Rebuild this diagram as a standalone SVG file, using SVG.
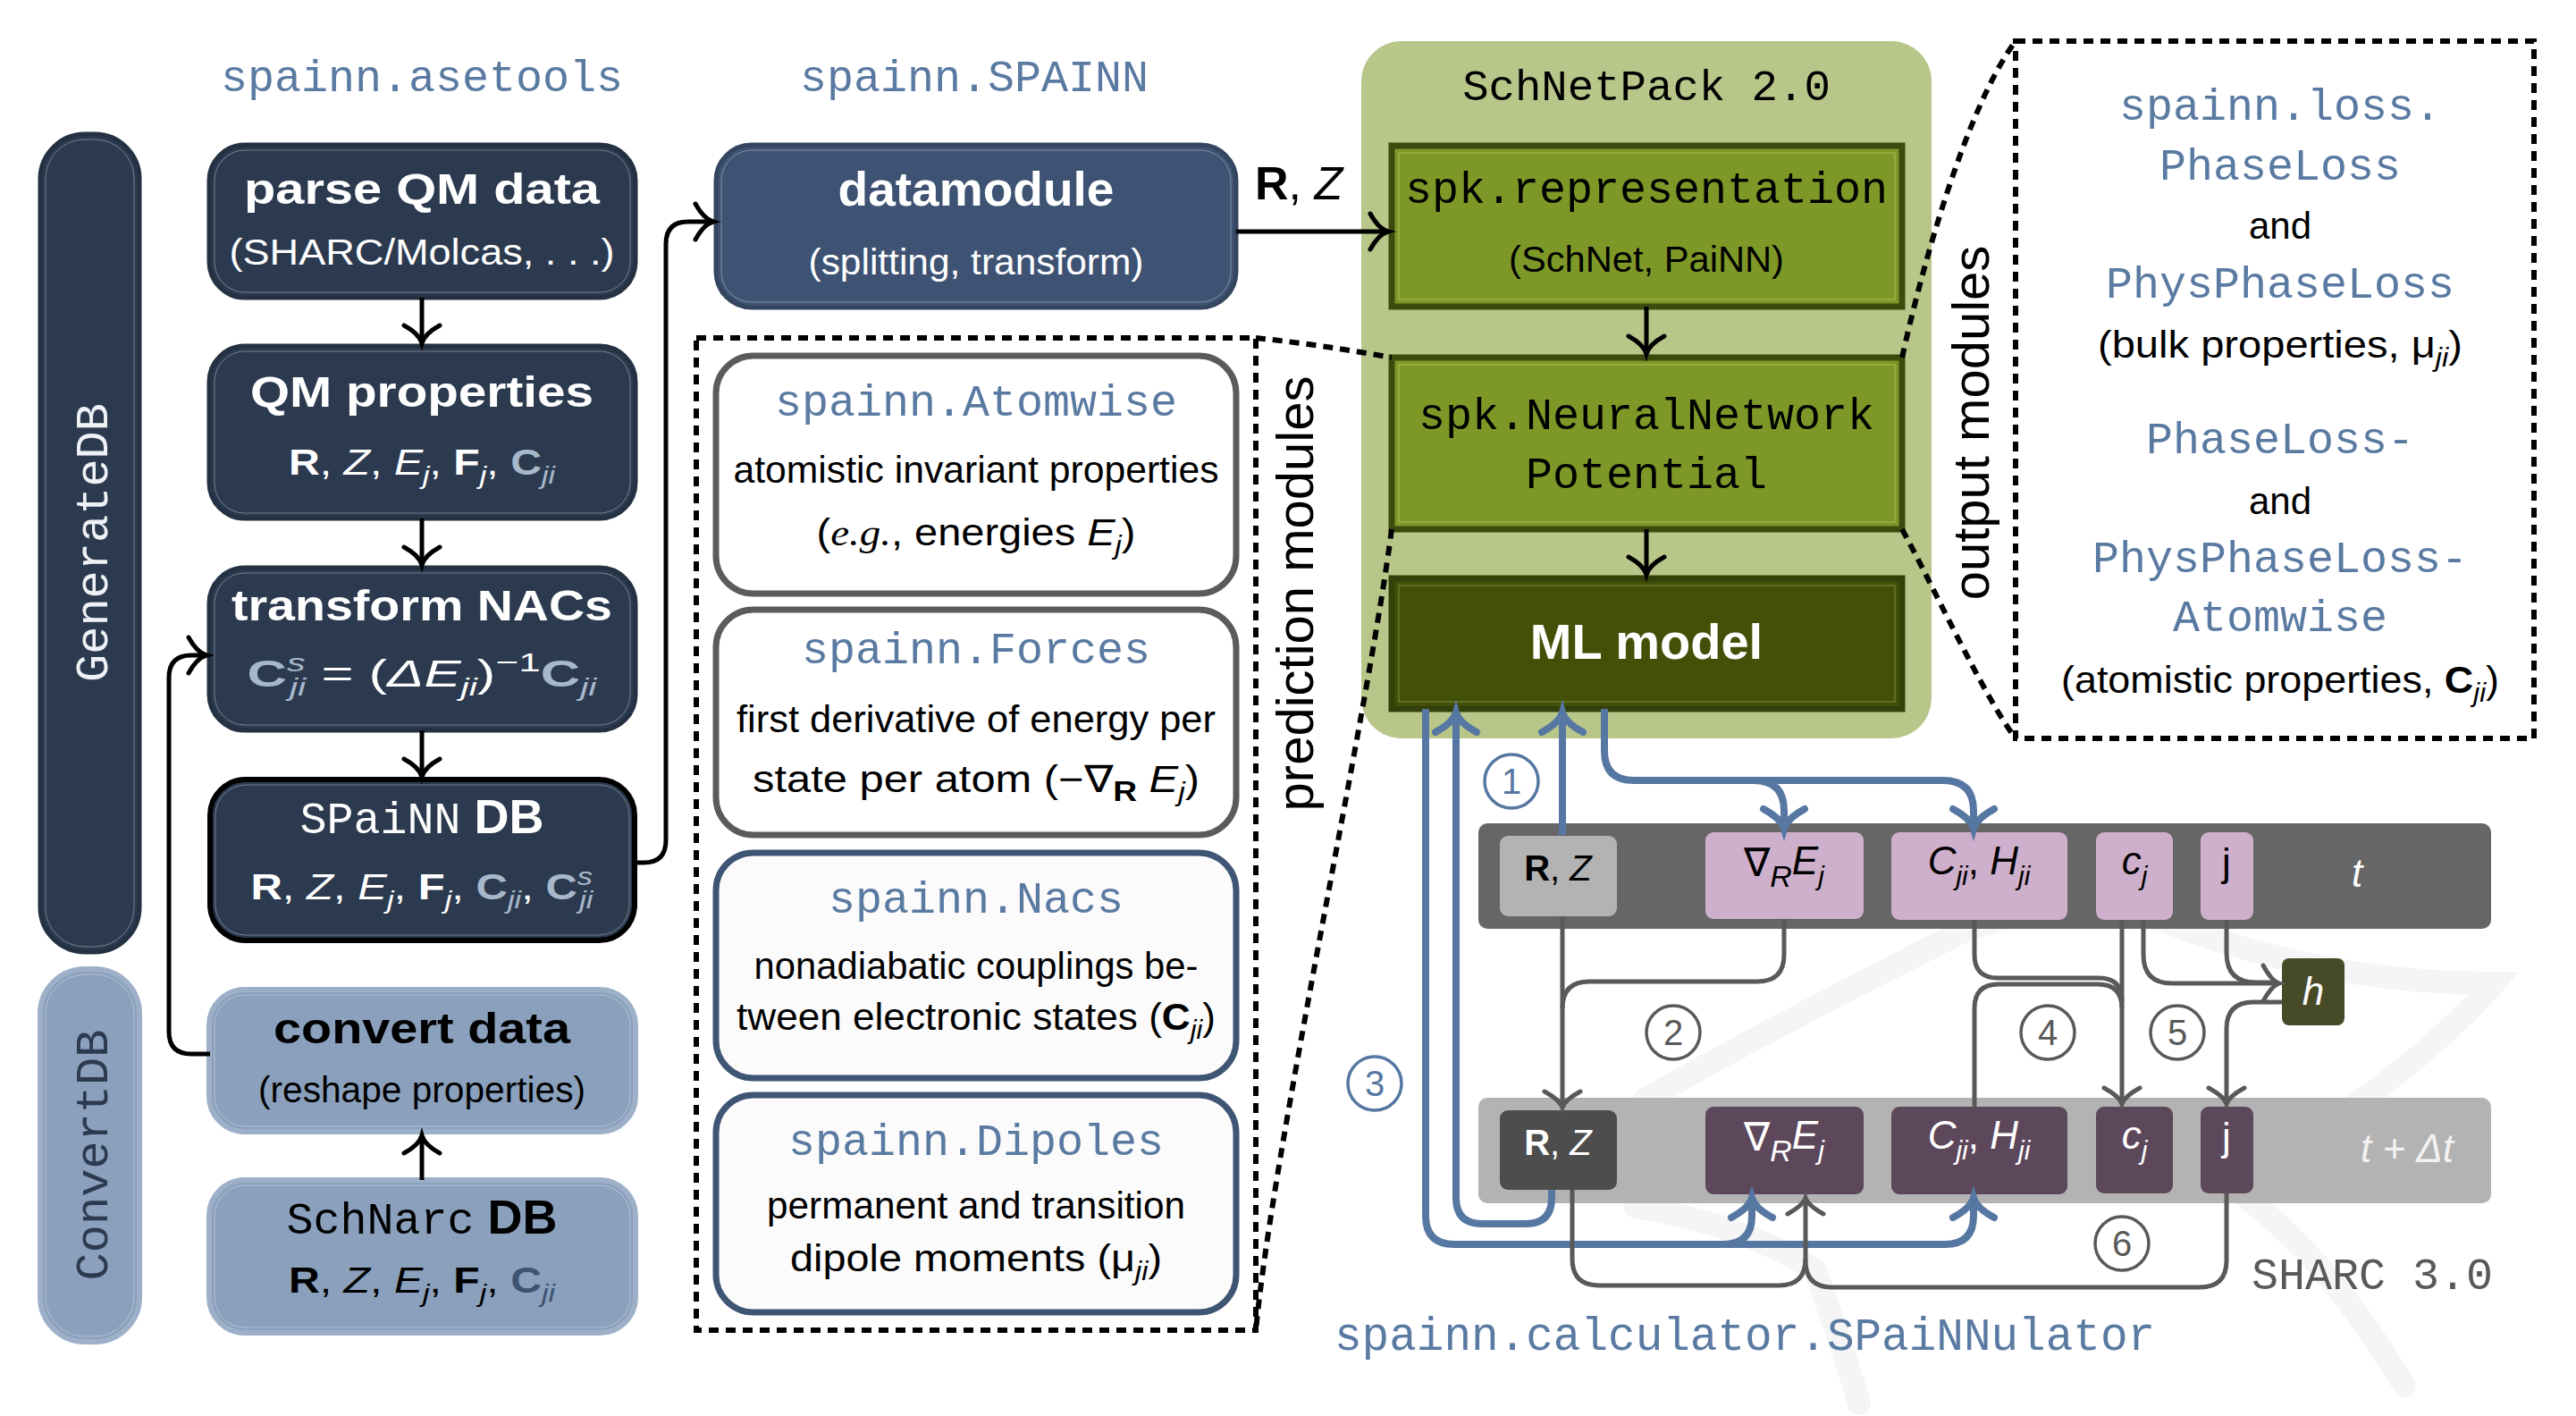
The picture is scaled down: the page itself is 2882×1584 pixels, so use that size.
<svg xmlns="http://www.w3.org/2000/svg" width="2882" height="1584" viewBox="0 0 2882 1584">
<style>
.sans{font-family:"Liberation Sans",Arial,sans-serif}
.mono{font-family:"Liberation Mono","Courier New",monospace}
.serif{font-family:"Liberation Serif","Times New Roman",serif}
.b{font-weight:bold}
.i{font-style:italic}
.blue{fill:#5a7aa2}
.wire{fill:none;stroke:#000;stroke-width:5}
.bwire{fill:none;stroke:#5677a1;stroke-width:8}
.gwire{fill:none;stroke:#595959;stroke-width:5}
.dot{fill:none;stroke:#000;stroke-width:6;stroke-dasharray:11 8}
.navy{fill:#2c3a4f;stroke:#243142;stroke-width:5}
.lblue{fill:#8aa0bc;stroke:#9db0c8;stroke-width:6}
.inner{fill:none;stroke:#ffffff;stroke-opacity:0.35;stroke-width:1}
.gbox{fill:#7e9828;stroke:#3d4b0f;stroke-width:7}
.pm{fill:#ffffff;stroke:#5b5b5b;stroke-width:7}
.pmb{fill:#fbfbfb;stroke:#3f5574;stroke-width:7}
.circ{fill:#ffffff;stroke-width:3.5}
</style>
<defs>
<marker id="ak" markerUnits="userSpaceOnUse" viewBox="-30 -30 40 60" markerWidth="40" markerHeight="60" refX="0" refY="0" orient="auto" overflow="visible">
<path d="M-20,-20 C-14,-9 -7,-2 0,0 C-7,2 -14,9 -20,20" fill="none" stroke="#000" stroke-width="5" stroke-linecap="round"/>
</marker>
<marker id="ab" markerUnits="userSpaceOnUse" viewBox="-30 -30 40 60" markerWidth="40" markerHeight="60" refX="0" refY="0" orient="auto" overflow="visible">
<path d="M-22,-23 C-15,-10 -7,-2 0,0 C-7,2 -15,10 -22,23" fill="none" stroke="#5677a1" stroke-width="8" stroke-linecap="round"/>
</marker>
<marker id="ag" markerUnits="userSpaceOnUse" viewBox="-30 -30 40 60" markerWidth="40" markerHeight="60" refX="0" refY="0" orient="auto" overflow="visible">
<path d="M-18,-20 C-12,-9 -6,-2 0,0 C-6,2 -12,9 -18,20" fill="none" stroke="#595959" stroke-width="5" stroke-linecap="round"/>
</marker>
</defs>

<rect width="2882" height="1584" fill="#ffffff"/>

<!-- faint SHARC watermark -->
<g id="watermark" fill="none" stroke="#f5f5f5" stroke-width="26" stroke-linecap="round">
<path d="M1840,1230 Q2000,1140 2190,1045 Q2300,1000 2420,1030"/>
<path d="M2420,1030 Q2600,1100 2790,1100 Q2720,1180 2600,1260"/>
<path d="M1830,1350 Q1950,1370 2030,1420 Q2060,1500 2080,1570"/>
<path d="M2500,1330 Q2600,1400 2690,1550"/>
</g>

<!-- titles -->
<text id="t-asetools" class="mono blue" x="472" y="102" font-size="50" text-anchor="middle">spainn.asetools</text>
<text id="t-spainn" class="mono blue" x="1090" y="102" font-size="50" text-anchor="middle">spainn.SPAINN</text>

<!-- side bars -->
<g id="generatedb">
<rect x="45" y="150" width="111" height="915" rx="50" class="navy"/>
<rect x="51" y="156" width="99" height="903" rx="44" class="inner"/>
<text class="mono" font-size="52" fill="#eef1f5" text-anchor="middle" transform="translate(120,607) rotate(-90)">GenerateDB</text>
</g>
<g id="convertdb">
<rect x="45" y="1084" width="111" height="417" rx="50" class="lblue"/>
<rect x="51" y="1090" width="99" height="405" rx="44" class="inner"/>
<text class="mono" font-size="52" fill="#2c3a4f" text-anchor="middle" transform="translate(120,1292) rotate(-90)">ConvertDB</text>
</g>

<!-- left column -->
<g id="parse">
<rect x="234" y="162" width="477" height="171" rx="40" class="navy"/>
<rect x="240" y="168" width="465" height="159" rx="34" class="inner"/>
<text class="sans b" x="472" y="228" font-size="48" fill="#fff" text-anchor="middle" textLength="398" lengthAdjust="spacingAndGlyphs">parse QM data</text>
<text class="sans" x="472" y="296" font-size="40" fill="#fff" text-anchor="middle" textLength="431" lengthAdjust="spacingAndGlyphs">(SHARC/Molcas, . . .)</text>
</g>
<g id="qmprops">
<rect x="234" y="387" width="477" height="193" rx="40" class="navy"/>
<rect x="240" y="393" width="465" height="181" rx="34" class="inner"/>
<text class="sans b" x="472" y="455" font-size="48" fill="#fff" text-anchor="middle" textLength="384" lengthAdjust="spacingAndGlyphs">QM properties</text>
<text class="sans" x="472" y="531" font-size="40" fill="#fff" text-anchor="middle" textLength="298" lengthAdjust="spacingAndGlyphs"><tspan class="b">R</tspan>, <tspan class="i">Z</tspan>, <tspan class="i">E</tspan><tspan class="i" font-size="28" dy="10">j</tspan><tspan dy="-10">, </tspan><tspan class="b">F</tspan><tspan class="i" font-size="28" dy="10">j</tspan><tspan dy="-10">, </tspan><tspan class="b" fill="#a8b8cb">C</tspan><tspan class="i" font-size="28" dy="10" fill="#a8b8cb">ji</tspan></text>
</g>
<g id="transform">
<rect x="234" y="635" width="477" height="182" rx="40" class="navy"/>
<rect x="240" y="641" width="465" height="170" rx="34" class="inner"/>
<text class="sans b" x="472" y="694" font-size="48" fill="#fff" text-anchor="middle" textLength="426" lengthAdjust="spacingAndGlyphs">transform NACs</text>
<text class="sans" x="472" y="768" font-size="42" fill="#fff" text-anchor="middle" textLength="391" lengthAdjust="spacingAndGlyphs"><tspan class="b" fill="#a8b8cb">C</tspan><tspan class="i" font-size="28" dy="-17" fill="#a8b8cb">s</tspan><tspan class="i" font-size="28" dx="-12" dy="27" fill="#a8b8cb">ji</tspan><tspan dy="-10"> = (</tspan><tspan class="i">ΔE</tspan><tspan class="i" font-size="28" dy="10">ji</tspan><tspan dy="-10">)</tspan><tspan font-size="30" dy="-17">−1</tspan><tspan class="b" fill="#a8b8cb" dy="17">C</tspan><tspan class="i" font-size="28" dy="10" fill="#a8b8cb">ji</tspan></text>
</g>
<g id="spainndb">
<rect x="235" y="872" width="475" height="180" rx="40" fill="#2c3a4f" stroke="#000" stroke-width="6"/>
<rect x="241" y="878" width="463" height="168" rx="34" class="inner"/>
<text x="472" y="932" fill="#fff" text-anchor="middle"><tspan class="mono" font-size="50">SPaiNN</tspan><tspan class="sans b" font-size="54"> DB</tspan></text>
<text class="sans" x="472" y="1006" font-size="40" fill="#fff" text-anchor="middle" textLength="383" lengthAdjust="spacingAndGlyphs"><tspan class="b">R</tspan>, <tspan class="i">Z</tspan>, <tspan class="i">E</tspan><tspan class="i" font-size="28" dy="10">j</tspan><tspan dy="-10">, </tspan><tspan class="b">F</tspan><tspan class="i" font-size="28" dy="10">j</tspan><tspan dy="-10">, </tspan><tspan class="b" fill="#a8b8cb">C</tspan><tspan class="i" font-size="28" dy="10" fill="#a8b8cb">ji</tspan><tspan dy="-10">, </tspan><tspan class="b" fill="#a8b8cb">C</tspan><tspan class="i" font-size="28" dy="-16" fill="#a8b8cb">s</tspan><tspan class="i" font-size="28" dx="-12" dy="26" fill="#a8b8cb">ji</tspan></text>
</g>
<g id="convert">
<rect x="234" y="1107" width="477" height="159" rx="40" class="lblue"/>
<rect x="240" y="1113" width="465" height="147" rx="34" class="inner"/>
<text class="sans b" x="472" y="1167" font-size="48" fill="#000" text-anchor="middle" textLength="332" lengthAdjust="spacingAndGlyphs">convert data</text>
<text class="sans" x="472" y="1233" font-size="40" fill="#000" text-anchor="middle" textLength="366" lengthAdjust="spacingAndGlyphs">(reshape properties)</text>
</g>
<g id="schnarcdb">
<rect x="234" y="1320" width="477" height="171" rx="40" class="lblue"/>
<rect x="240" y="1326" width="465" height="159" rx="34" class="inner"/>
<text x="472" y="1380" fill="#000" text-anchor="middle"><tspan class="mono" font-size="50">SchNarc</tspan><tspan class="sans b" font-size="54"> DB</tspan></text>
<text class="sans" x="472" y="1446" font-size="40" fill="#000" text-anchor="middle" textLength="298" lengthAdjust="spacingAndGlyphs"><tspan class="b">R</tspan>, <tspan class="i">Z</tspan>, <tspan class="i">E</tspan><tspan class="i" font-size="28" dy="10">j</tspan><tspan dy="-10">, </tspan><tspan class="b">F</tspan><tspan class="i" font-size="28" dy="10">j</tspan><tspan dy="-10">, </tspan><tspan class="b" fill="#3e5373">C</tspan><tspan class="i" font-size="28" dy="10" fill="#3e5373">ji</tspan></text>
</g>

<!-- datamodule -->
<g id="datamodule">
<rect x="801" y="162" width="582" height="182" rx="40" fill="#3e5373" stroke="#34465f" stroke-width="5"/>
<rect x="807" y="168" width="570" height="170" rx="34" class="inner"/>
<text class="sans b" x="1092" y="230" font-size="54" fill="#fff" text-anchor="middle" textLength="309" lengthAdjust="spacingAndGlyphs">datamodule</text>
<text class="sans" x="1092" y="307" font-size="40" fill="#fff" text-anchor="middle" textLength="375" lengthAdjust="spacingAndGlyphs">(splitting, transform)</text>
</g>
<text id="rz-label" class="sans" x="1404" y="223" font-size="52" fill="#000"><tspan class="b">R</tspan>, <tspan class="i">Z</tspan></text>

<!-- prediction modules -->
<g id="prediction">
<rect x="779" y="378" width="626" height="1110" class="dot"/>
<text class="sans" font-size="58" fill="#000" text-anchor="middle" transform="translate(1469,664) rotate(-90)">prediction modules</text>
</g>
<g id="atomwise">
<rect x="801" y="398" width="582" height="266" rx="42" class="pm"/>
<text class="mono blue" x="1092" y="465" font-size="50" text-anchor="middle">spainn.Atomwise</text>
<text class="sans" x="1092" y="540" font-size="42" text-anchor="middle" textLength="543" lengthAdjust="spacingAndGlyphs">atomistic invariant properties</text>
<text class="sans" x="1092" y="610" font-size="42" text-anchor="middle" textLength="357" lengthAdjust="spacingAndGlyphs">(<tspan class="serif i">e.g.</tspan>,  energies <tspan class="i">E</tspan><tspan class="i" font-size="29" dy="10">j</tspan><tspan dy="-10">)</tspan></text>
</g>
<g id="forces">
<rect x="801" y="682" width="582" height="252" rx="42" class="pm"/>
<text class="mono blue" x="1092" y="742" font-size="50" text-anchor="middle">spainn.Forces</text>
<text class="sans" x="1092" y="819" font-size="42" text-anchor="middle" textLength="536" lengthAdjust="spacingAndGlyphs">first derivative of energy per</text>
<text class="sans" x="1092" y="886" font-size="42" text-anchor="middle" textLength="500" lengthAdjust="spacingAndGlyphs">state per atom (−∇<tspan class="b" font-size="32" dy="10">R</tspan><tspan class="i" dy="-10"> E</tspan><tspan class="i" font-size="29" dy="10">j</tspan><tspan dy="-10">)</tspan></text>
</g>
<g id="nacs">
<rect x="801" y="954" width="582" height="252" rx="42" class="pmb"/>
<text class="mono blue" x="1092" y="1021" font-size="50" text-anchor="middle">spainn.Nacs</text>
<text class="sans" x="1092" y="1095" font-size="42" text-anchor="middle" textLength="497" lengthAdjust="spacingAndGlyphs">nonadiabatic couplings be-</text>
<text class="sans" x="1092" y="1152" font-size="42" text-anchor="middle" textLength="536" lengthAdjust="spacingAndGlyphs">tween electronic states (<tspan class="b">C</tspan><tspan class="i" font-size="29" dy="10">ji</tspan><tspan dy="-10">)</tspan></text>
</g>
<g id="dipoles">
<rect x="801" y="1225" width="582" height="243" rx="42" class="pmb"/>
<text class="mono blue" x="1092" y="1292" font-size="50" text-anchor="middle">spainn.Dipoles</text>
<text class="sans" x="1092" y="1363" font-size="42" text-anchor="middle" textLength="468" lengthAdjust="spacingAndGlyphs">permanent and transition</text>
<text class="sans" x="1092" y="1422" font-size="42" text-anchor="middle" textLength="416" lengthAdjust="spacingAndGlyphs">dipole moments (μ<tspan class="i" font-size="29" dy="10">ji</tspan><tspan dy="-10">)</tspan></text>
</g>

<!-- SchNetPack -->
<g id="schnetpack">
<rect x="1523" y="46" width="638" height="780" rx="45" fill="#b8c68a"/>
<text class="mono" x="1842" y="112" font-size="49" fill="#000" text-anchor="middle">SchNetPack 2.0</text>
</g>
<g id="representation">
<rect x="1557" y="163" width="571" height="180" class="gbox"/>
<rect x="1565" y="171" width="555" height="164" fill="none" stroke="#a8bb5a" stroke-width="1"/>
<text class="mono" x="1842" y="227" font-size="50" fill="#000" text-anchor="middle">spk.representation</text>
<text class="sans" x="1842" y="304" font-size="40" fill="#000" text-anchor="middle" textLength="308" lengthAdjust="spacingAndGlyphs">(SchNet, PaiNN)</text>
</g>
<g id="nnp">
<rect x="1557" y="400" width="571" height="192" class="gbox"/>
<rect x="1565" y="408" width="555" height="176" fill="none" stroke="#a8bb5a" stroke-width="1"/>
<text class="mono" x="1842" y="480" font-size="50" fill="#000" text-anchor="middle">spk.NeuralNetwork</text>
<text class="mono" x="1842" y="546" font-size="50" fill="#000" text-anchor="middle">Potential</text>
</g>
<g id="mlmodel">
<rect x="1557" y="647" width="571" height="146" fill="#435108" stroke="#34400a" stroke-width="7"/>
<rect x="1565" y="655" width="555" height="130" fill="none" stroke="#7d8c3a" stroke-width="1"/>
<text class="sans b" x="1842" y="737" font-size="56" fill="#fff" text-anchor="middle">ML model</text>
</g>

<!-- output modules -->
<g id="output">
<rect x="2255" y="46" width="580" height="780" class="dot"/>
<text class="sans" font-size="58" fill="#000" text-anchor="middle" transform="translate(2225,473) rotate(-90)">output modules</text>
<text class="mono blue" x="2551" y="134" font-size="50" text-anchor="middle">spainn.loss.</text>
<text class="mono blue" x="2551" y="201" font-size="50" text-anchor="middle">PhaseLoss</text>
<text class="sans" x="2551" y="267" font-size="42" fill="#000" text-anchor="middle">and</text>
<text class="mono blue" x="2551" y="333" font-size="50" text-anchor="middle">PhysPhaseLoss</text>
<text class="sans" x="2551" y="400" font-size="42" fill="#000" text-anchor="middle" textLength="408" lengthAdjust="spacingAndGlyphs">(bulk properties,  μ<tspan class="i" font-size="29" dy="10">ji</tspan><tspan dy="-10">)</tspan></text>
<text class="mono blue" x="2551" y="507" font-size="50" text-anchor="middle">PhaseLoss-</text>
<text class="sans" x="2551" y="575" font-size="42" fill="#000" text-anchor="middle">and</text>
<text class="mono blue" x="2551" y="640" font-size="50" text-anchor="middle">PhysPhaseLoss-</text>
<text class="mono blue" x="2551" y="706" font-size="50" text-anchor="middle">Atomwise</text>
<text class="sans" x="2551" y="775" font-size="42" fill="#000" text-anchor="middle" textLength="490" lengthAdjust="spacingAndGlyphs">(atomistic properties, <tspan class="b">C</tspan><tspan class="i" font-size="29" dy="10">ji</tspan><tspan dy="-10">)</tspan></text>
</g>

<!-- SHARC rows -->
<g id="row-t">
<rect x="1654" y="921" width="1133" height="118" rx="10" fill="#666666"/>
<text class="sans i" x="2637" y="992" font-size="44" fill="#fff" text-anchor="middle">t</text>
</g>
<g id="row-tdt">
<rect x="1654" y="1228" width="1133" height="118" rx="10" fill="#b3b3b3"/>
<text class="sans i" x="2693" y="1300" font-size="44" fill="#f2f2f2" text-anchor="middle">t + Δt</text>
</g>
<g id="rz-t">
<rect x="1678" y="935" width="131" height="90" rx="9" fill="#b3b3b3"/>
<text class="sans" x="1743" y="985" font-size="40" fill="#000" text-anchor="middle"><tspan class="b">R</tspan>, <tspan class="i">Z</tspan></text>
</g>
<g id="grad-t">
<rect x="1908" y="931" width="177" height="97" rx="9" fill="#cfb0cc"/>
<text class="sans" x="1996" y="980" font-size="44" fill="#000" text-anchor="middle">∇<tspan class="i" font-size="34" dy="12">R</tspan><tspan class="i" dy="-14">E</tspan><tspan class="i" font-size="30" dy="12">j</tspan></text>
</g>
<g id="ch-t">
<rect x="2116" y="931" width="197" height="98" rx="9" fill="#cfb0cc"/>
<text class="sans" x="2214" y="978" font-size="44" fill="#000" text-anchor="middle"><tspan class="i">C</tspan><tspan class="i" font-size="30" dy="12">ji</tspan><tspan dy="-12">, </tspan><tspan class="i">H</tspan><tspan class="i" font-size="30" dy="12">ji</tspan></text>
</g>
<g id="c-t">
<rect x="2345" y="931" width="86" height="98" rx="9" fill="#cfb0cc"/>
<text class="sans" x="2388" y="978" font-size="44" fill="#000" text-anchor="middle"><tspan class="i">c</tspan><tspan class="i" font-size="30" dy="12">j</tspan></text>
</g>
<g id="j-t">
<rect x="2462" y="931" width="59" height="98" rx="9" fill="#cfb0cc"/>
<text class="sans" x="2491" y="980" font-size="44" fill="#000" text-anchor="middle">j</text>
</g>
<g id="rz-tdt">
<rect x="1678" y="1242" width="131" height="89" rx="9" fill="#4d4d4d"/>
<text class="sans" x="1743" y="1292" font-size="40" fill="#fff" text-anchor="middle"><tspan class="b">R</tspan>, <tspan class="i">Z</tspan></text>
</g>
<g id="grad-tdt">
<rect x="1908" y="1238" width="177" height="98" rx="9" fill="#5c475b"/>
<text class="sans" x="1996" y="1287" font-size="44" fill="#fff" text-anchor="middle">∇<tspan class="i" font-size="34" dy="12">R</tspan><tspan class="i" dy="-14">E</tspan><tspan class="i" font-size="30" dy="12">j</tspan></text>
</g>
<g id="ch-tdt">
<rect x="2116" y="1238" width="197" height="98" rx="9" fill="#5c475b"/>
<text class="sans" x="2214" y="1285" font-size="44" fill="#fff" text-anchor="middle"><tspan class="i">C</tspan><tspan class="i" font-size="30" dy="12">ji</tspan><tspan dy="-12">, </tspan><tspan class="i">H</tspan><tspan class="i" font-size="30" dy="12">ji</tspan></text>
</g>
<g id="c-tdt">
<rect x="2345" y="1238" width="86" height="97" rx="9" fill="#5c475b"/>
<text class="sans" x="2388" y="1285" font-size="44" fill="#fff" text-anchor="middle"><tspan class="i">c</tspan><tspan class="i" font-size="30" dy="12">j</tspan></text>
</g>
<g id="j-tdt">
<rect x="2462" y="1238" width="59" height="97" rx="9" fill="#5c475b"/>
<text class="sans" x="2491" y="1287" font-size="44" fill="#fff" text-anchor="middle">j</text>
</g>
<g id="h">
<rect x="2553" y="1072" width="70" height="75" rx="8" fill="#474a27"/>
<text class="sans i" x="2588" y="1124" font-size="44" fill="#fff" text-anchor="middle">h</text>
</g>

<text id="sharc-label" class="mono" x="2519" y="1442" font-size="50" fill="#595959">SHARC 3.0</text>
<text id="calc-label" class="mono blue" x="1493" y="1510" font-size="51">spainn.calculator.SPaiNNulator</text>

<!-- connectors -->
<g id="connectors">
<path class="wire" d="M472,333 V384" marker-end="url(#ak)"/>
<path class="wire" d="M472,580 V632" marker-end="url(#ak)"/>
<path class="wire" d="M472,817 V869" marker-end="url(#ak)"/>
<path class="wire" d="M472,1320 V1270" marker-end="url(#ak)"/>
<path class="wire" d="M235,1179 H214 Q189,1179 189,1154 V758 Q189,733 214,733 H231" marker-end="url(#ak)"/>
<path class="wire" d="M710,965 H720 Q745,965 745,940 V273 Q745,248 770,248 H798" marker-end="url(#ak)"/>
<path class="wire" d="M1383,259 H1553" marker-end="url(#ak)"/>
<path class="wire" d="M1842,343 V396" marker-end="url(#ak)"/>
<path class="wire" d="M1842,592 V643" marker-end="url(#ak)"/>

<path class="dot" d="M1405,378 Q1480,386 1557,400"/>
<path class="dot" d="M1557,592 C1530,800 1425,1280 1405,1488"/>
<path class="dot" d="M2128,400 C2150,300 2200,120 2255,46"/>
<path class="dot" d="M2128,592 C2160,650 2220,780 2255,826"/>

<path class="bwire" d="M1595,793 V1360 Q1595,1392 1627,1392 H1928 Q1960,1392 1960,1360 V1340" marker-end="url(#ab)"/>
<path class="bwire" d="M1900,1392 H2176 Q2208,1392 2208,1360 V1340" marker-end="url(#ab)"/>
<path class="bwire" d="M1736,1331 V1340 Q1736,1369 1707,1369 H1658 Q1629,1369 1629,1340 V797" marker-end="url(#ab)"/>
<path class="bwire" d="M1748,934 V797" marker-end="url(#ab)"/>
<path class="bwire" d="M1795,793 V840 Q1795,873 1828,873 H1962 Q1996,873 1996,907 V927" marker-end="url(#ab)"/>
<path class="bwire" d="M1950,873 H2174 Q2208,873 2208,907 V927" marker-end="url(#ab)"/>

<path class="gwire" d="M1748,1025 V1239" marker-end="url(#ag)"/>
<path class="gwire" d="M1996,1028 V1068 Q1996,1098 1966,1098 H1778 Q1748,1098 1748,1128"/>
<path class="gwire" d="M2209,1029 V1068 Q2209,1094 2235,1094 H2348 Q2374,1094 2374,1120"/>
<path class="gwire" d="M2209,1239 V1128 Q2209,1101 2236,1101 H2347 Q2374,1101 2374,1128"/>
<path class="gwire" d="M2374,1029 V1235" marker-end="url(#ag)"/>
<path class="gwire" d="M2398,1029 V1068 Q2398,1100 2430,1100 H2550" marker-end="url(#ag)"/>
<path class="gwire" d="M2491,1029 V1066 Q2491,1099 2524,1099 H2545"/>
<path class="gwire" d="M2553,1121 H2521 Q2491,1121 2491,1151 V1235" marker-end="url(#ag)"/>
<path class="gwire" d="M2491,1335 V1410 Q2491,1440 2461,1440 H2050 Q2020,1440 2020,1410 V1340" marker-end="url(#ag)"/>
<path class="gwire" d="M1759,1331 V1408 Q1759,1438 1789,1438 H1990 Q2020,1438 2020,1408"/>
</g>

<!-- step labels -->
<g id="step1"><circle cx="1691" cy="874" r="30" class="circ" stroke="#5677a1"/><text class="sans" x="1691" y="888" font-size="40" fill="#5677a1" text-anchor="middle">1</text></g>
<g id="step2"><circle cx="1872" cy="1155" r="30" class="circ" stroke="#595959"/><text class="sans" x="1872" y="1169" font-size="40" fill="#595959" text-anchor="middle">2</text></g>
<g id="step3"><circle cx="1538" cy="1212" r="30" class="circ" stroke="#5677a1"/><text class="sans" x="1538" y="1226" font-size="40" fill="#5677a1" text-anchor="middle">3</text></g>
<g id="step4"><circle cx="2291" cy="1155" r="30" class="circ" stroke="#595959"/><text class="sans" x="2291" y="1169" font-size="40" fill="#595959" text-anchor="middle">4</text></g>
<g id="step5"><circle cx="2436" cy="1155" r="30" class="circ" stroke="#595959"/><text class="sans" x="2436" y="1169" font-size="40" fill="#595959" text-anchor="middle">5</text></g>
<g id="step6"><circle cx="2374" cy="1391" r="30" class="circ" stroke="#595959"/><text class="sans" x="2374" y="1405" font-size="40" fill="#595959" text-anchor="middle">6</text></g>
</svg>
